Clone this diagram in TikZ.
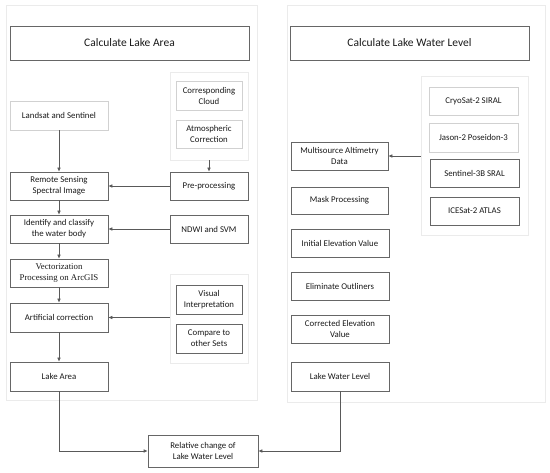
\documentclass[tikz,border=0pt]{standalone}
\usepackage{fontspec}
\setmainfont{Carlito}
\newfontfamily\timesfont{Liberation Serif}
\usetikzlibrary{arrows.meta}
\newcommand\Bx[7]{\node[#1, minimum width={#5-#3}, minimum height={#6-#4}] (#2) at ({(#3+#5)/2},{(#4+#6)/2}) {#7};}
\begin{document}
\begin{tikzpicture}[x=1pt,y=-1pt,
  box/.style={draw=black!60, line width=0.6pt, inner sep=1pt, align=center, font=\fontsize{8.8}{11}\selectfont, text=black!90},
  lbox/.style={box, draw=black!18},
  tbox/.style={box, font=\fontsize{11.5}{13}\selectfont},
  frame/.style={draw=black!8, line width=0.5pt, inner sep=0pt},
  arr/.style={draw=black!65, line width=0.6pt, -{Latex[length=4pt,width=3.5pt]}}]
\useasboundingbox (0,0) rectangle (550,473);
% outer frames
\Bx{frame}{fL}{6}{5}{257}{400}{}
\Bx{frame}{fR}{287}{5}{545}{402}{}
% titles
\Bx{tbox}{tA}{10}{26}{249}{60}{Calculate Lake Area}
\Bx{tbox}{tW}{290}{26}{529}{60}{Calculate Lake Water Level}
% left column
\Bx{lbox}{ls}{10}{101}{108}{130}{Landsat and Sentinel}
\Bx{frame}{subA}{170}{72}{248}{160}{}
\Bx{lbox}{cc}{176}{81}{242}{110}{Corresponding\\Cloud}
\Bx{lbox}{ac}{176}{120}{242}{148}{Atmospheric\\Correction}
\Bx{box}{pp}{170}{172}{248}{200}{Pre-processing}
\Bx{box}{rs}{10}{172}{108}{200}{Remote Sensing\\Spectral Image}
\Bx{box}{id}{10}{215}{108}{243}{Identify and classify\\the water body}
\Bx{box}{nd}{170}{215}{248}{243}{NDWI and SVM}
\Bx{box}{vp}{10}{259}{108}{287}{\timesfont Vectorization\\\timesfont Processing on ArcGIS}
\Bx{frame}{subB}{170}{274}{248}{363}{}
\Bx{box}{vi}{176}{285}{242}{314}{Visual\\Interpretation}
\Bx{box}{ct}{176}{324}{242}{353}{Compare to\\other Sets}
\Bx{box}{ar}{10}{303}{108}{332}{Artificial correction}
\Bx{box}{la}{10}{362}{108}{391}{Lake Area}
\Bx{box}{rc}{148}{435}{258}{467}{Relative change of\\Lake Water Level}
% right column
\Bx{box}{ma}{291}{142}{388}{170}{Multisource Altimetry\\Data}
\Bx{frame}{subC}{421}{76}{528}{235}{}
\Bx{lbox}{cs}{429}{87}{518}{115}{CryoSat-2 SIRAL}
\Bx{lbox}{js}{429}{123}{518}{152}{Jason-2 Poseidon-3}
\Bx{box}{s3}{430}{159}{519}{187}{Sentinel-3B SRAL}
\Bx{box}{ic}{430}{197}{519}{225}{ICESat-2 ATLAS}
\Bx{box}{mp}{291}{187}{388}{214}{Mask Processing}
\Bx{box}{ie}{291}{229}{389}{257}{Initial Elevation Value}
\Bx{box}{eo}{291}{272}{389}{300}{Eliminate Outliners}
\Bx{box}{ce}{291}{315}{389}{343}{Corrected Elevation\\Value}
\Bx{box}{lw}{291}{362}{389}{391}{Lake Water Level}
% connectors
\draw[arr] (ls.south) -- (rs.north);
\draw[arr] (rs.south) -- (id.north);
\draw[arr] (id.south) -- (vp.north);
\draw[arr] (vp.south) -- (ar.north);
\draw[arr] (ar.south) -- (la.north);
\draw[arr] (subA.south) -- (pp.north);
\draw[arr] (pp.west) -- (rs.east);
\draw[arr] (nd.west) -- (id.east);
\draw[arr] (subB.west |- ar.east) -- (ar.east);
\draw[arr] (subC.west |- ma.east) -- (ma.east);
\draw[arr] (la.south) |- (rc.west);
\draw[arr] (lw.south) |- (rc.east);
\end{tikzpicture}
\end{document}
